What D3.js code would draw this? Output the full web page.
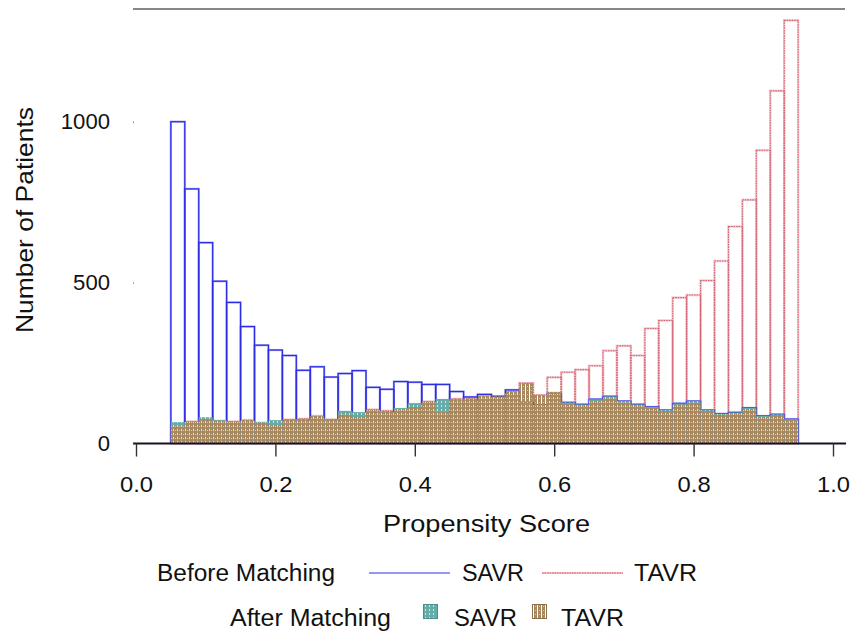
<!DOCTYPE html>
<html>
<head>
<meta charset="utf-8">
<script src="https://cdnjs.cloudflare.com/ajax/libs/d3/7.8.5/d3.min.js"></script>
<style>
  body { margin: 0; background: #fff; }
  svg { display: block; font-family: "Liberation Sans", Arial, sans-serif; }
</style>
</head>
<body>
<svg width="853" height="631"></svg>
<script>
// Data: histogram bins (lower edge, width 0.02)
const binStarts = [0.05, 0.07, 0.09, 0.11, 0.13, 0.15, 0.17, 0.19, 0.21, 0.23,
  0.25, 0.27, 0.29, 0.31, 0.33, 0.35, 0.37, 0.39, 0.41, 0.43,
  0.45, 0.47, 0.49, 0.51, 0.53, 0.55, 0.57, 0.59, 0.61, 0.63,
  0.65, 0.67, 0.69, 0.71, 0.73, 0.75, 0.77, 0.79, 0.81, 0.83,
  0.85, 0.87, 0.89, 0.91, 0.93];
const binWidth = 0.02;
const beforeSAVR = [1000, 791, 624, 504, 438, 363, 305, 290, 273, 227,
  238, 206, 217, 226, 174, 168, 192, 190, 183, 183,
  161, 144, 152, 146, 166, 127, 119, 155, 127, 121,
  137, 146, 131, 121, 113, 103, 124, 131, 103, 92,
  96, 110, 85, 90, 75];
const beforeTAVR = [53, 68, 76, 70, 68, 72, 64, 56, 74, 76,
  85, 74, 89, 82, 105, 101, 104, 113, 130, 97,
  138, 139, 147, 146, 161, 187, 150, 205, 221, 229,
  241, 288, 303, 273, 357, 382, 453, 461, 506, 567,
  674, 757, 911, 1096, 1315];
const afterSAVR = [66, 66, 81, 72, 66, 70, 66, 72, 72, 74,
  80, 76, 101, 97, 100, 98, 110, 125, 125, 138,
  134, 135, 140, 140, 155, 127, 119, 155, 127, 121,
  137, 146, 131, 121, 113, 103, 124, 131, 103, 92,
  96, 110, 85, 90, 75];
const afterTAVR = [53, 68, 76, 70, 68, 72, 64, 56, 74, 76,
  85, 74, 89, 82, 105, 101, 104, 113, 130, 97,
  138, 139, 147, 146, 161, 187, 150, 160, 122, 117,
  132, 140, 127, 118, 110, 100, 120, 126, 100, 89,
  93, 106, 82, 87, 72];
const xTicks = [0, 0.2, 0.4, 0.6, 0.8, 1.0];
const yTicks = [0, 500, 1000];

const svg = d3.select('svg');
const x = d3.scaleLinear().domain([0, 1]).range([136, 833]);
const y = d3.scaleLinear().domain([0, 1000]).range([443.3, 121.7]);

// Patterns
const defs = svg.append('defs');
const teal = defs.append('pattern').attr('id', 'tealPat')
  .attr('width', 4).attr('height', 4).attr('patternUnits', 'userSpaceOnUse');
teal.append('rect').attr('width', 4).attr('height', 4).attr('fill', '#66aca8');
teal.append('rect').attr('x', 1).attr('y', 1).attr('width', 1).attr('height', 2).attr('fill', '#cfe7e3');
const tan = defs.append('pattern').attr('id', 'tanPat')
  .attr('width', 4).attr('height', 4).attr('patternUnits', 'userSpaceOnUse');
tan.append('path').attr('d', 'M0,0H4V4H0Z M1,0V4H2V0Z')
  .attr('fill', '#a8895f').attr('fill-rule', 'evenodd');
tan.append('rect').attr('x', 3).attr('y', 2).attr('width', 1).attr('height', 1).attr('fill', '#d9c4a8');

// Top border line
svg.append('line')
  .attr('x1', 133).attr('x2', 845).attr('y1', 9).attr('y2', 9)
  .attr('stroke', '#111').attr('stroke-width', 1.2);

const bars = (vals, cls) => svg.append('g').attr('class', cls)
  .selectAll('rect').data(vals).enter().append('rect')
  .attr('x', (d, i) => x(binStarts[i]))
  .attr('width', (d, i) => x(binStarts[i] + binWidth) - x(binStarts[i]))
  .attr('y', d => y(d))
  .attr('height', d => y(0) - y(d));

// Before matching: outlines
bars(beforeTAVR, 'tavr-halo').attr('fill', 'none')
  .attr('stroke', '#f2c9cf').attr('stroke-width', 2.4);
bars(beforeTAVR, 'tavr').attr('fill', 'none')
  .attr('stroke', '#d5606f').attr('stroke-width', 1.1).attr('stroke-dasharray', '1.5,1');
bars(beforeSAVR, 'savr-halo').attr('fill', 'none')
  .attr('stroke', '#a8a8f0').attr('stroke-width', 2.2);
bars(beforeSAVR, 'savr').attr('fill', 'none')
  .attr('stroke', '#2c2ce4').attr('stroke-width', 1.2);

// After matching: patterned fills
bars(afterSAVR, 'm-savr').attr('fill', 'url(#tealPat)');
bars(afterTAVR, 'm-tavr').attr('fill', 'url(#tanPat)');

// X axis
svg.append('line')
  .attr('x1', 133).attr('x2', 846).attr('y1', 443.5).attr('y2', 443.5)
  .attr('stroke', '#1c1020').attr('stroke-width', 2);
const xAxis = svg.append('g').attr('transform', 'translate(0,443.5)')
  .call(d3.axisBottom(x).tickValues(xTicks).tickSize(13).tickPadding(20)
    .tickFormat(d3.format('.1f')));
xAxis.select('.domain').remove();
xAxis.selectAll('line').attr('stroke', '#333').attr('stroke-width', 1.4);
xAxis.selectAll('text').attr('font-size', 22).attr('fill', '#111')
  .attr('textLength', 33).attr('lengthAdjust', 'spacingAndGlyphs');

// Y axis
const yAxis = svg.append('g').attr('transform', 'translate(134,0)')
  .call(d3.axisLeft(y).tickValues(yTicks).tickSize(1).tickPadding(23).tickFormat(d3.format('d')));
yAxis.select('.domain').remove();
yAxis.selectAll('line').attr('stroke', '#555');
yAxis.selectAll('text').attr('font-size', 22).attr('fill', '#111')
  .attr('textLength', d => String(d).length * 12.3).attr('lengthAdjust', 'spacingAndGlyphs');

// Axis titles
svg.append('text')
  .attr('x', 383).attr('y', 532).attr('font-size', 23).attr('fill', '#111')
  .attr('textLength', 207).attr('lengthAdjust', 'spacingAndGlyphs')
  .text('Propensity Score');
svg.append('text')
  .attr('transform', 'translate(33,333) rotate(-90)')
  .attr('font-size', 24).attr('fill', '#111')
  .attr('textLength', 226).attr('lengthAdjust', 'spacingAndGlyphs')
  .text('Number of Patients');

// Legend
const legend = svg.append('g').attr('font-size', 23).attr('fill', '#111');
legend.append('text').attr('x', 157).attr('y', 581)
  .attr('textLength', 178).attr('lengthAdjust', 'spacingAndGlyphs').text('Before Matching');
legend.append('line').attr('x1', 369).attr('x2', 450).attr('y1', 573).attr('y2', 573)
  .attr('stroke', '#3030e0').attr('stroke-width', 1.2);
legend.append('text').attr('x', 462).attr('y', 581)
  .attr('textLength', 62).attr('lengthAdjust', 'spacingAndGlyphs').text('SAVR');
legend.append('line').attr('x1', 542).attr('x2', 623).attr('y1', 573).attr('y2', 573)
  .attr('stroke', '#f0c0c8').attr('stroke-width', 1.8);
legend.append('line').attr('x1', 542).attr('x2', 623).attr('y1', 573).attr('y2', 573)
  .attr('stroke', '#d5606f').attr('stroke-width', 1).attr('stroke-dasharray', '1.5,1');
legend.append('text').attr('x', 634).attr('y', 581)
  .attr('textLength', 63).attr('lengthAdjust', 'spacingAndGlyphs').text('TAVR');

legend.append('text').attr('x', 230).attr('y', 626)
  .attr('textLength', 161).attr('lengthAdjust', 'spacingAndGlyphs').text('After Matching');
legend.append('rect').attr('x', 423.5).attr('y', 604.5).attr('width', 14).attr('height', 14)
  .attr('fill', 'url(#tealPat)').attr('stroke', '#4f8f8b').attr('stroke-width', 1);
legend.append('text').attr('x', 454).attr('y', 626)
  .attr('textLength', 63).attr('lengthAdjust', 'spacingAndGlyphs').text('SAVR');
legend.append('rect').attr('x', 532.5).attr('y', 604.5).attr('width', 14).attr('height', 14)
  .attr('fill', 'url(#tanPat)').attr('stroke', '#8a6e4e').attr('stroke-width', 1);
legend.append('text').attr('x', 561).attr('y', 626)
  .attr('textLength', 63).attr('lengthAdjust', 'spacingAndGlyphs').text('TAVR');
</script>
</body>
</html>
